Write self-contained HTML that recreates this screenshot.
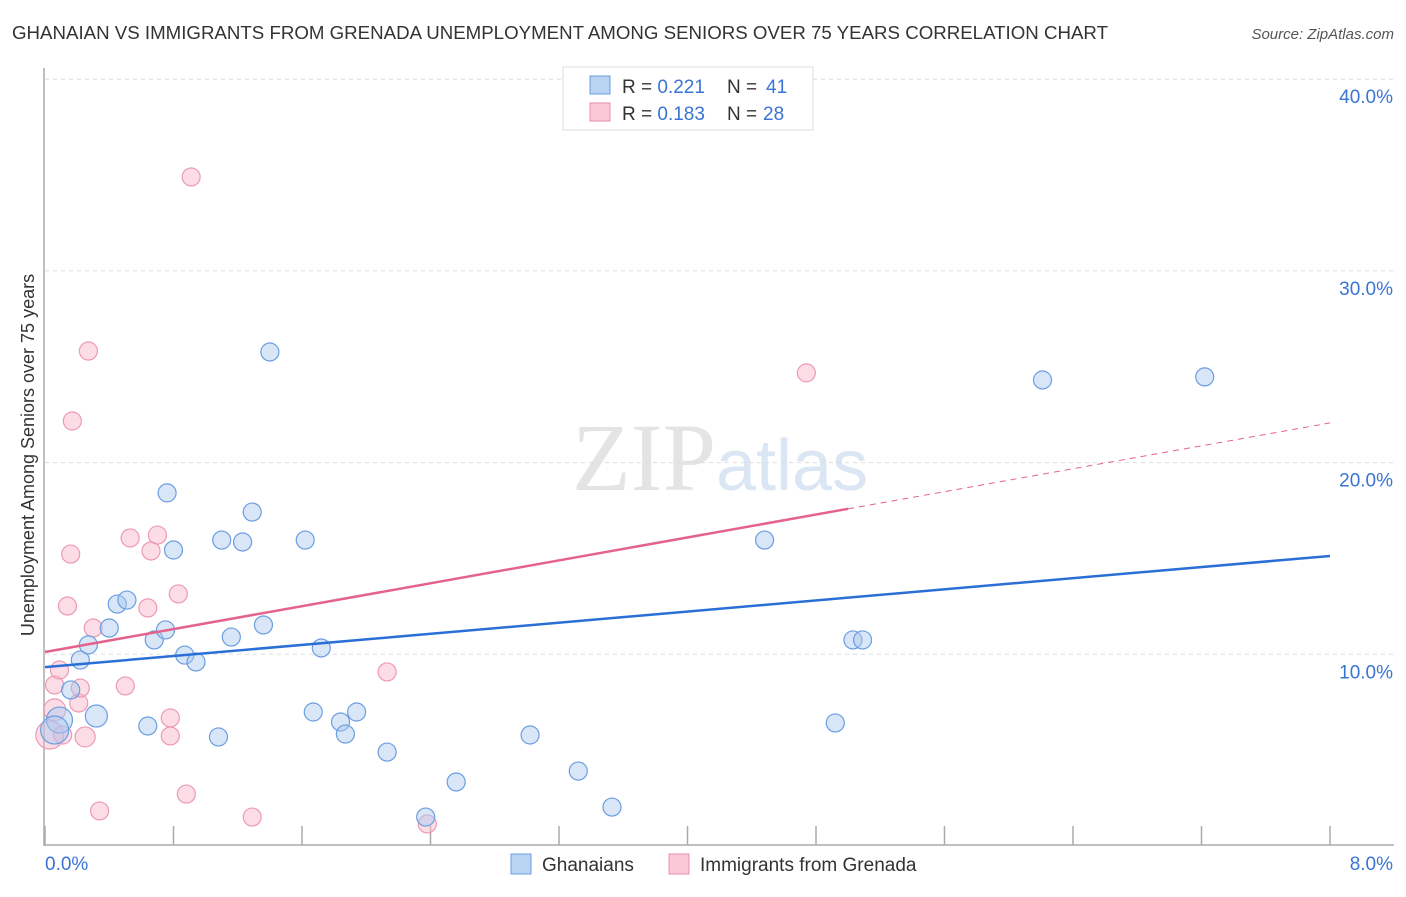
<!DOCTYPE html>
<html><head><meta charset="utf-8"><style>
body{margin:0;background:#fff;font-family:"Liberation Sans",sans-serif;}
</style></head><body>
<svg width="1406" height="892" xmlns="http://www.w3.org/2000/svg">
<text x="12" y="39" font-size="18" fill="#333" textLength="1096" lengthAdjust="spacingAndGlyphs">GHANAIAN VS IMMIGRANTS FROM GRENADA UNEMPLOYMENT AMONG SENIORS OVER 75 YEARS CORRELATION CHART</text>
<text x="1394" y="39" font-size="15" fill="#555" font-style="italic" text-anchor="end">Source: ZipAtlas.com</text>
<text x="716" y="490" font-size="96" fill="#e4e4e4" font-family="Liberation Serif" text-anchor="end">ZIP</text>
<text x="716" y="490" font-size="72" fill="#dbe6f5">atlas</text>
<g id="grid"></g><g id="axes"></g><g id="marks"></g>
<g>
<rect x="563" y="67" width="250" height="63" fill="#fff" stroke="#ddd"/>
<rect x="590" y="76" width="20" height="18" fill="#b9d3f3" stroke="#6a9ee0"/>
<rect x="590" y="103" width="20" height="18" fill="#fac8d6" stroke="#ea8fac"/>
<text x="622" y="93" font-size="19" fill="#333">R = <tspan fill="#3a74d4">0.221</tspan></text>
<text x="727" y="93" font-size="19" fill="#333">N = <tspan x="766" fill="#3a74d4">41</tspan></text>
<text x="622" y="120" font-size="19" fill="#333">R = <tspan fill="#3a74d4">0.183</tspan></text>
<text x="727" y="120" font-size="19" fill="#333">N = <tspan x="763" fill="#3a74d4">28</tspan></text>
</g>
<g>
<rect x="511" y="854" width="20" height="20" fill="#b9d3f3" stroke="#6a9ee0"/>
<text x="542" y="871" font-size="19" fill="#333">Ghanaians</text>
<rect x="669" y="854" width="20" height="20" fill="#fac8d6" stroke="#ea8fac"/>
<text x="700" y="871" font-size="19" fill="#333">Immigrants from Grenada</text>
</g>
<text transform="translate(34,455) rotate(-90)" font-size="18" fill="#333" text-anchor="middle">Unemployment Among Seniors over 75 years</text>
</svg>
<script>
const yTicks=[10,20,30,40];
const yTickLabels=["10.0%","20.0%","30.0%","40.0%"];
const xTickLabels=["0.0%","8.0%"];
const blueX=[0.09,0.16,0.22,0.27,0.32,0.40,0.45,0.51,0.64,0.68,0.75,0.76,0.80,0.87,0.94,1.08,1.10,1.16,1.23,1.29,1.36,1.40,1.62,1.67,1.72,1.84,1.87,1.94,2.13,2.37,2.56,3.02,3.32,3.53,4.48,4.92,5.03,5.09,6.21,7.22,0.06];
const blueY=[6.57,8.14,9.70,10.49,6.78,11.37,12.62,12.83,6.26,10.75,11.27,18.42,15.44,9.96,9.60,5.69,15.96,10.90,15.86,17.42,11.53,25.77,15.96,6.99,10.33,6.47,5.84,6.99,4.90,1.51,3.34,5.79,3.91,2.03,15.96,6.42,10.75,10.75,24.31,24.47,6.05];
const blueR=[13,9,9,9,11,9,9,9,9,9,9,9,9,9,9,9,9,9,9,9,9,9,9,9,9,9,9,9,9,9,9,9,9,9,9,9,9,9,9,9,14];
const pinkX=[0.03,0.06,0.09,0.11,0.14,0.17,0.16,0.21,0.22,0.25,0.27,0.30,0.34,0.50,0.53,0.64,0.66,0.70,0.78,0.78,0.83,0.88,0.91,1.29,2.13,2.38,4.74,0.06];
const pinkY=[5.79,8.40,9.18,5.79,12.52,22.17,15.23,7.46,8.24,5.69,25.82,11.37,1.83,8.35,16.07,12.42,15.39,16.22,5.74,6.68,13.15,2.71,34.90,1.51,9.08,1.15,24.68,7.10];
const pinkR=[14,9,9,9,9,9,9,9,9,10,9,9,9,9,9,9,9,9,9,9,9,9,9,9,9,9,9,11];
const blueLine=[9.33,15.13];
const pinkLine=[10.12,22.07];
const pinkSolidEnd=5.0;
const NS="http://www.w3.org/2000/svg";
const sx=v=>45+v/8*1285, sy=v=>846-v*19.17;
function mk(t,a,p){const e=document.createElementNS(NS,t);for(const k in a)e.setAttribute(k,a[k]);p.appendChild(e);return e;}
const grid=document.getElementById('grid'),axes=document.getElementById('axes'),marks=document.getElementById('marks');
yTicks.forEach((v,i)=>{
 const l=mk('line',{x1:45,x2:1394,y1:sy(v),y2:sy(v),stroke:'#ddd','stroke-dasharray':'4,4'},grid);
 
 
 const t=mk('text',{x:1393,y:sy(v)+24,'font-size':19,fill:'#3a74d4','text-anchor':'end'},axes);t.textContent=yTickLabels[i];
 
 
});
mk('line',{x1:44,x2:44,y1:68,y2:846,stroke:'#aaa','stroke-width':1.5},axes);
mk('line',{x1:44,x2:1394,y1:845,y2:845,stroke:'#aaa','stroke-width':1.5},axes);
for(let i=0;i<=10;i++){const x=sx(i*0.8);const l=mk('line',{x1:x,x2:x,y1:826,y2:845,stroke:'#aaa','stroke-width':1.5},axes);
 
 }
const t0=mk('text',{x:45,y:870,'font-size':19,fill:'#3a74d4'},axes);t0.textContent=xTickLabels[0];


const t1=mk('text',{x:1393,y:870,'font-size':19,fill:'#3a74d4','text-anchor':'end'},axes);t1.textContent=xTickLabels[1];


pinkX.forEach((x,i)=>{const c=mk('circle',{cx:sx(x),cy:sy(pinkY[i]),r:pinkR[i],fill:'rgba(248,180,200,0.45)',stroke:'#ec9ab4','stroke-width':1.2},marks);
 
 });
blueX.forEach((x,i)=>{const c=mk('circle',{cx:sx(x),cy:sy(blueY[i]),r:blueR[i],fill:'rgba(170,200,240,0.45)',stroke:'#6a9ee0','stroke-width':1.2},marks);
 
 });
const pAt=x=>pinkLine[0]+(pinkLine[1]-pinkLine[0])*x/8;
const bl=mk('line',{x1:sx(0),y1:sy(blueLine[0]),x2:sx(8),y2:sy(blueLine[1]),stroke:'#2a6fd6','stroke-width':2.5},marks);


const pl=mk('line',{x1:sx(0),y1:sy(pinkLine[0]),x2:sx(pinkSolidEnd),y2:sy(pAt(pinkSolidEnd)),stroke:'#e4638d','stroke-width':2.5},marks);


const pd=mk('line',{x1:sx(pinkSolidEnd),y1:sy(pAt(pinkSolidEnd)),x2:sx(8),y2:sy(pinkLine[1]),stroke:'#e4638d','stroke-width':1,'stroke-dasharray':'6,5'},marks);


</script>
</body></html>
